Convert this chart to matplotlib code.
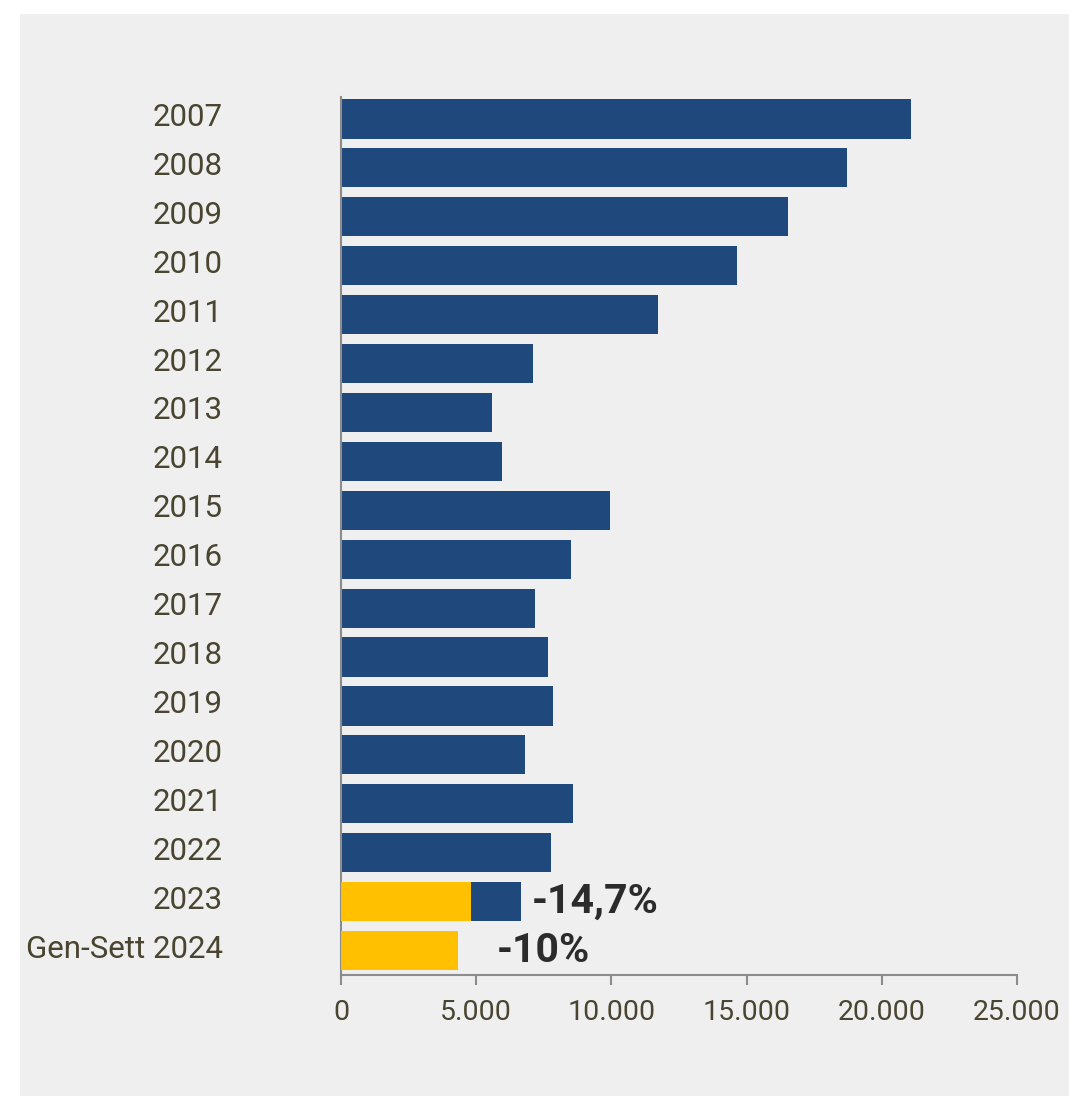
import matplotlib.pyplot as plt
from matplotlib.patches import Rectangle
from matplotlib.ticker import FuncFormatter
from matplotlib.transforms import ScaledTranslation

# Data
years = ["2007", "2008", "2009", "2010", "2011", "2012", "2013", "2014", "2015",
         "2016", "2017", "2018", "2019", "2020", "2021", "2022", "2023", "Gen-Sett 2024"]
totals = [21080, 18710, 16530, 14650, 11720, 7100, 5580, 5950, 9950,
          8510, 7180, 7660, 7840, 6810, 8580, 7770, 6660, 0]
# Jan-Sep part (yellow), only for 2023 and 2024
gen_sett = [0] * 16 + [4810, 4330]
pct_labels = ["-14,7%", "-10%"]

NAVY = "#1f497d"
YELLOW = "#ffc000"
TEXT = "#4a4530"
AXIS = "#8c8c8c"

plt.rcParams["font.family"] = ["Roboto", "DejaVu Sans"]

fig = plt.figure(figsize=(10.69, 10.96), dpi=100)
fig.patch.set_facecolor("white")
bg = Rectangle((20 / 1069, 0), 1 - 20 / 1069, 1 - 14 / 1096,
               transform=fig.transFigure, facecolor="#efefef",
               edgecolor="none", zorder=-10)
fig.add_artist(bg)

ax = fig.add_axes([341 / 1069, 1 - 975 / 1096, (1017 - 341) / 1069, (975 - 97) / 1096])
ax.set_zorder(1)
ax.set_facecolor("none")

pos = list(range(len(years)))
ax.barh(pos, totals, height=0.8, color=NAVY, zorder=2)
ax.barh(pos, gen_sett, height=0.8, color=YELLOW, zorder=3)

# percentage labels next to the last two bars
ax.annotate(pct_labels[0], xy=(totals[16], 16), xytext=(8, 0), textcoords="offset points",
            ha="left", va="center", fontsize=29.5, fontweight="bold", color="#2b2b2b")
ax.annotate(pct_labels[1], xy=(gen_sett[17], 17), xytext=(28, 0), textcoords="offset points",
            ha="left", va="center", fontsize=29.5, fontweight="bold", color="#2b2b2b")

ax.set_xlim(0, 25000)
ax.set_ylim(17.5, -0.45)
ax.set_xticks([0, 5000, 10000, 15000, 20000, 25000])
ax.xaxis.set_major_formatter(FuncFormatter(lambda v, p: f"{int(v):,}".replace(",", ".")))
ax.set_yticks(pos)
ax.set_yticklabels(years)

for s in ["top", "right"]:
    ax.spines[s].set_visible(False)
for s in ["left", "bottom"]:
    ax.spines[s].set_color(AXIS)
    ax.spines[s].set_linewidth(1.5)

ax.tick_params(axis="y", length=0, pad=85, labelsize=22.5, labelcolor=TEXT)
ax.tick_params(axis="x", length=7, width=1.5, color=AXIS, direction="out",
               labelsize=20.5, labelcolor=TEXT, pad=10)

# year labels sit a little above the bar centres
shift = ScaledTranslation(0, 0.045, fig.dpi_scale_trans)
for lbl in ax.get_yticklabels():
    lbl.set_transform(lbl.get_transform() + shift)

fig.savefig("out.png", dpi=100)
